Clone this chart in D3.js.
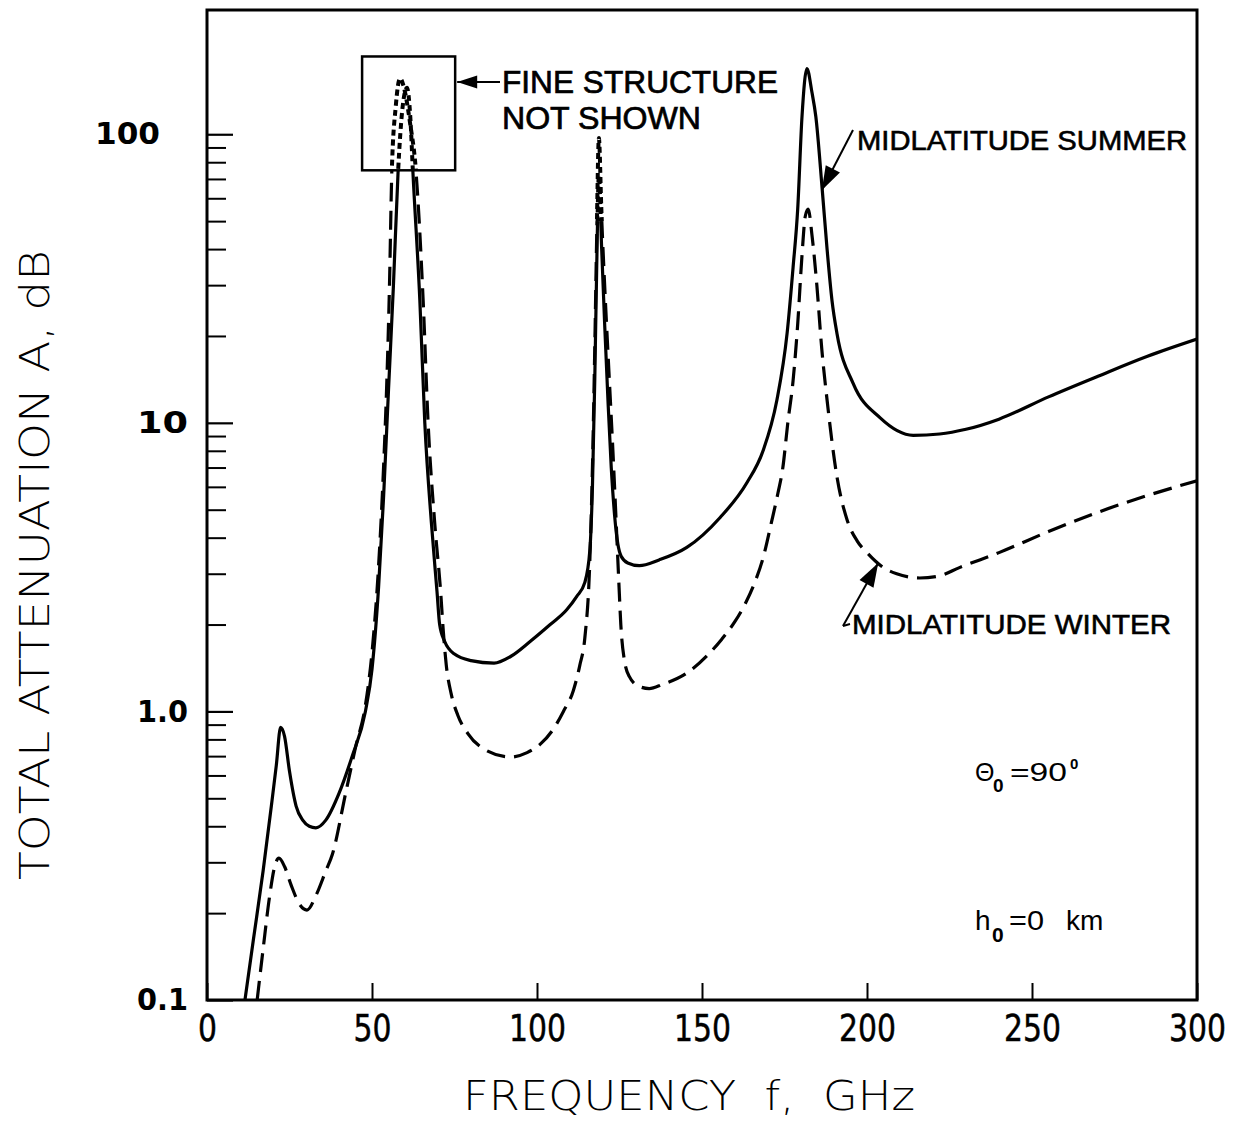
<!DOCTYPE html>
<html><head><meta charset="utf-8">
<script src="https://cdn.jsdelivr.net/npm/d3@7"></script>
<style>body{margin:0;background:#fff}</style>
</head><body><svg id="c" width="1243" height="1121"></svg>
<script>
// ---------- data ----------
const freqSummer = [11.5,14,17,19.5,21,22.3,23.5,25,27,29,31,33,36,40,44,48,50,52,53.5,55,56.5,57.9,59.3,60.6,61.6,62.4,64.5,66,68,69.7,70.5,72,75,80,87,92,98,104,109,112,114.5,116,116.8,117.5,118.1,118.75,119.6,120.5,121.5,122.5,123.5,124.5,125.5,127.5,131,137,145.4,155.5,163.6,168.5,172.7,175.8,177.6,179,180.3,181.8,183.3,184.5,186.4,187.9,189.4,190.9,195.8,204,214,222,230,240,255,270,285,300];
const attSummer  = [0.1,0.16,0.28,0.47,0.65,0.88,0.82,0.62,0.47,0.42,0.40,0.395,0.42,0.52,0.7,1.0,1.4,2.7,5.5,13,30,74,125,145,115,74,26.5,10,4.5,2.6,2.0,1.75,1.58,1.5,1.47,1.55,1.75,2.0,2.25,2.5,2.8,3.6,6,14,35,72,40,22,12,7,4.8,3.8,3.45,3.27,3.2,3.35,3.7,4.7,6.2,8.0,12,20.5,34.6,55,115,169,140,115,65,40,26.5,20.4,13.7,10.4,9.05,9.15,9.5,10.3,12.3,14.5,17,19.5];

const freqWinter = [15.2,17,19,20.5,21.8,23.5,25.5,28,30.3,33,36,38,42,45,48,50,52,53.5,54.5,55.3,56,57.2,58.5,60,61.5,63.3,65.5,67,69,70.8,71.6,72.5,74,76,79,84,92,97,101,105,108,111,113,114.5,116,116.8,117.5,118.1,118.75,119.5,120.5,121.8,123,124,124.8,125.4,126.5,128,131,134,138,145.5,152,156,160,163,166,168.5,171,173,174.5,176,177.6,179,180.3,181.3,182.2,183.3,184.8,186.3,187.9,190.9,194,197,200,205,209,216,222,228,240,255,270,285,300];
const attWinter  = [0.1,0.15,0.23,0.29,0.31,0.29,0.25,0.215,0.205,0.23,0.28,0.32,0.52,0.75,1.05,1.6,3.2,7,14,30,74,125,156,140,110,75,26.5,10,4.5,2.6,1.9,1.45,1.15,0.97,0.84,0.74,0.695,0.72,0.77,0.87,1.0,1.18,1.45,1.8,3.3,7,18,45,97,55,30,15,8,4.5,2.8,2.0,1.5,1.32,1.22,1.2,1.24,1.36,1.58,1.78,2.05,2.35,2.8,3.4,4.5,5.7,7,10,14,22,38,52,55,45,30,18,12,6.5,4.6,3.9,3.55,3.15,3.0,2.9,2.95,3.15,3.55,4.2,4.9,5.6,6.3];

const xTicks = [0,50,100,150,200,250,300];
const yMajor = [0.1,1,10,100];
const yMajorLabels = ["0.1","1.0","10","100"];
const yMinor = [0.2,0.3,0.4,0.5,0.6,0.7,0.8,0.9,2,3,4,5,6,7,8,9,20,30,40,50,60,70,80,90];

// ---------- scales ----------
const svg = d3.select("#c");
const x = d3.scaleLinear().domain([0,300]).range([207,1197]);
const y = d3.scaleLog().domain([0.1,269.5]).range([1000,10]);

const COND = '"DejaVu Sans",sans-serif';
const SANS = '"Liberation Sans",Arial,Helvetica,sans-serif';

// fine-structure regions (data units)
const fineBox = {f0:47, f1:75.2, v0:75, v1:186};
const fine118 = {f0:115.5, f1:121.5, v0:50, v1:269.5};

const defs = svg.append("defs");
const mMain = defs.append("mask").attr("id","mMain").attr("maskUnits","userSpaceOnUse")
  .attr("x",0).attr("y",0).attr("width",1243).attr("height",1121);
mMain.append("rect").attr("x",0).attr("y",0).attr("width",1243).attr("height",1121).attr("fill","#fff");
const mFine = defs.append("mask").attr("id","mFine").attr("maskUnits","userSpaceOnUse")
  .attr("x",0).attr("y",0).attr("width",1243).attr("height",1121);
[fineBox, fine118].forEach(r=>{
  [mMain,mFine].forEach((m,i)=>m.append("rect")
    .attr("x",x(r.f0)).attr("y",y(r.v1)).attr("width",x(r.f1)-x(r.f0)).attr("height",y(r.v0)-y(r.v1))
    .attr("fill", i===0 ? "#000" : "#fff"));
});
defs.append("clipPath").attr("id","plotClip").append("rect")
  .attr("x",207).attr("y",10).attr("width",990).attr("height",990);

// ---------- axes ----------
const xAxis = d3.axisBottom(x).tickValues(xTicks).tickSize(-17).tickPadding(14).tickFormat(d3.format("d"));
const gx = svg.append("g").attr("transform","translate(0,1000)").call(xAxis);
gx.select(".domain").remove();
gx.selectAll("line").attr("stroke","#000").attr("stroke-width",2);
gx.selectAll("text").attr("font-family",COND).attr("font-size",38).attr("fill","#000")
  .attr("stroke","#000").attr("stroke-width",0.5).attr("dy","0.71em")
  .attr("textLength",function(){return this.textContent.length*19;})
  .attr("lengthAdjust","spacingAndGlyphs");

const yAxisMinor = d3.axisLeft(y).tickValues(yMinor).tickSize(-19).tickFormat("");
const gyMin = svg.append("g").attr("transform","translate(207,0)").call(yAxisMinor);
gyMin.select(".domain").remove();
gyMin.selectAll("line").attr("stroke","#000").attr("stroke-width",2);

const yAxisMajor = d3.axisLeft(y).tickValues(yMajor).tickSize(-26).tickPadding(19)
  .tickFormat((d,i)=>yMajorLabels[i]);
const gy = svg.append("g").attr("transform","translate(207,0)").call(yAxisMajor);
gy.select(".domain").remove();
gy.selectAll("line").attr("stroke","#000").attr("stroke-width",2.2);
gy.selectAll("text").attr("font-family",'"DejaVu Sans",sans-serif').attr("font-weight","bold")
  .attr("font-size",30).attr("fill","#000")
  .attr("textLength",function(){return this.textContent.length===3 ? (this.textContent.indexOf(".")>=0 ? 51 : 65) : 51;})
  .attr("lengthAdjust","spacingAndGlyphs")
  .attr("dx",d=> d===100 ? -28 : 0);

// frame
svg.append("rect").attr("x",207).attr("y",10).attr("width",990).attr("height",990)
  .attr("fill","none").attr("stroke","#000").attr("stroke-width",3);

// ---------- curves ----------
const line = d3.line().x(d=>x(d[0])).y(d=>y(d[1])).curve(d3.curveMonotoneX);
const summer = d3.zip(freqSummer, attSummer);
const winter = d3.zip(freqWinter, attWinter);
const gc = svg.append("g").attr("clip-path","url(#plotClip)");
const styles = [
  {data:summer, dash:null},
  {data:winter, dash:"19,9"}
];
styles.forEach(s=>{
  gc.append("path").attr("d",line(s.data)).attr("fill","none").attr("stroke","#000")
    .attr("stroke-width",3.2).attr("stroke-dasharray",s.dash).attr("mask","url(#mMain)");
  gc.append("path").attr("d",line(s.data)).attr("fill","none").attr("stroke","#000")
    .attr("stroke-width",4).attr("stroke-dasharray","6,4").attr("mask","url(#mFine)");
});

// fine structure box
svg.append("rect").attr("x",x(fineBox.f0)).attr("y",y(fineBox.v1))
  .attr("width",x(fineBox.f1)-x(fineBox.f0)).attr("height",y(fineBox.v0)-y(fineBox.v1))
  .attr("fill","none").attr("stroke","#000").attr("stroke-width",2.5);

// ---------- annotations ----------
function arrow(x1,y1,x2,y2,len,half){ // tail (x1,y1) -> tip (x2,y2)
  svg.append("line").attr("x1",x1).attr("y1",y1).attr("x2",x2).attr("y2",y2)
    .attr("stroke","#000").attr("stroke-width",2);
  const a = Math.atan2(y2-y1,x2-x1);
  const bx = x2-len*Math.cos(a), by = y2-len*Math.sin(a);
  const px = -Math.sin(a)*half, py = Math.cos(a)*half;
  svg.append("path").attr("d",`M${x2},${y2}L${bx+px},${by+py}L${bx-px},${by-py}Z`).attr("fill","#000");
}
arrow(500, 82, x(fineBox.f1)+2, 82, 20, 6.5);
const tA = svg.append("g").attr("font-family",SANS).attr("font-size",31).attr("fill","#000")
  .attr("stroke","#000").attr("stroke-width",0.7);
tA.append("text").attr("x",502).attr("y",93).attr("textLength",276).attr("lengthAdjust","spacingAndGlyphs").text("FINE STRUCTURE");
tA.append("text").attr("x",502).attr("y",129).attr("textLength",199).attr("lengthAdjust","spacingAndGlyphs").text("NOT SHOWN");

arrow(853, 130, x(186.3), y(64), 24, 8);
const tB = svg.append("g").attr("font-family",SANS).attr("font-size",28).attr("fill","#000")
  .attr("stroke","#000").attr("stroke-width",0.6);
tB.append("text").attr("x",857).attr("y",150).attr("textLength",330).attr("lengthAdjust","spacingAndGlyphs").text("MIDLATITUDE SUMMER");
arrow(843, 626, x(203.4), y(3.27), 24, 8);
svg.append("line").attr("x1",843).attr("y1",626).attr("x2",850).attr("y2",624).attr("stroke","#000").attr("stroke-width",2);
tB.append("text").attr("x",852).attr("y",634).attr("textLength",319).attr("lengthAdjust","spacingAndGlyphs").text("MIDLATITUDE WINTER");

// parameters
const tC = svg.append("g").attr("font-family",SANS).attr("fill","#000");
const th = tC.append("text").attr("x",975).attr("y",781).attr("font-size",25);
th.append("tspan").text("Θ");
th.append("tspan").attr("x",993).attr("dy",11).attr("font-size",19).attr("font-weight","bold").text("0");
th.append("tspan").attr("x",1010).attr("dy",-11).attr("textLength",57).attr("lengthAdjust","spacingAndGlyphs").text("=90");
th.append("tspan").attr("x",1070).attr("dy",-12).attr("font-size",15).attr("font-weight","bold").text("0");
const hh = tC.append("text").attr("x",975).attr("y",930).attr("font-size",28);
hh.append("tspan").text("h");
hh.append("tspan").attr("x",992).attr("dy",12).attr("font-size",21).attr("font-weight","bold").text("0");
hh.append("tspan").attr("x",1009).attr("dy",-12).attr("textLength",35).attr("lengthAdjust","spacingAndGlyphs").text("=0");
hh.append("tspan").attr("x",1066).text("km");

// axis titles
svg.append("text").attr("transform","translate(49,565) rotate(-90)").attr("text-anchor","middle")
  .attr("font-family",COND).attr("font-weight",200).attr("font-size",41).attr("fill","#000")
  .attr("textLength",630).attr("lengthAdjust","spacingAndGlyphs").text("TOTAL ATTENUATION A, dB");
svg.append("text").attr("x",689).attr("y",1110).attr("text-anchor","middle")
  .attr("font-family",COND).attr("font-weight",200).attr("font-size",40).attr("fill","#000")
  .attr("textLength",452).attr("lengthAdjust","spacingAndGlyphs").attr("xml:space","preserve").text("FREQUENCY  f,  GHz");
</script></body></html>
